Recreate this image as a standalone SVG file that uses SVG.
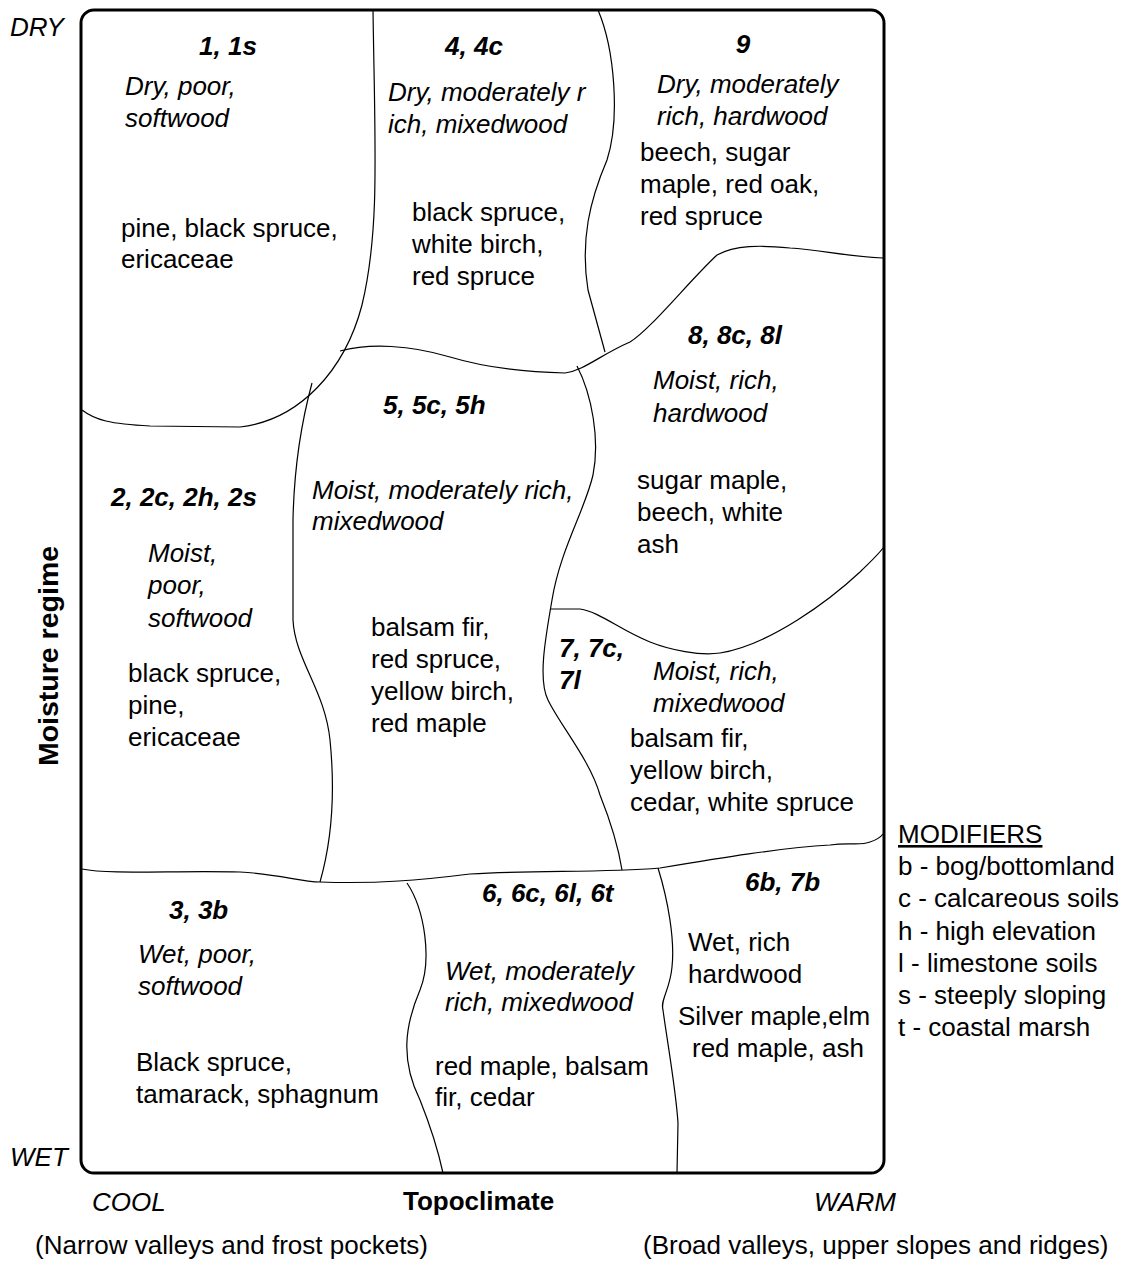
<svg xmlns="http://www.w3.org/2000/svg" width="1130" height="1262" viewBox="0 0 1130 1262">
<style>
text{font-family:"Liberation Sans",Arial,sans-serif;font-size:26px;fill:#000}
.c{font-weight:bold;font-style:italic}
.d{font-style:italic}
.ax{font-weight:bold}
.b{fill:none;stroke:#000;stroke-width:1.2}
.frame{fill:#fff;stroke:#000;stroke-width:3}
</style>
<rect width="1130" height="1262" fill="#fff"/>
<rect class="frame" x="81" y="10" width="803" height="1163" rx="13"/>
<g id="boundaries">
<path class="b" d="M373,10 C375,150 380,230 362,305 C345,370 300,420 240,427 L150,426 C110,424 95,420 82,410"/>
<path class="b" d="M598,10 C615,50 620,120 607,160 C590,200 580,240 588,290 L605,352"/>
<path class="b" d="M340,351 C370,343 410,345 450,357 C480,366 520,372 565,373 C585,370 600,355 630,342 C650,330 690,280 717,255 C735,245 760,245 790,248 C820,250 845,256 883,258"/>
<path class="b" d="M312,383 C302,420 294,470 293,520 L293,620 C295,660 325,690 330,740 C335,790 332,840 320,882"/>
<path class="b" d="M82,869 C110,875 180,870 240,872 C280,874 300,882 320,882 C380,884 420,880 470,874 C540,870 600,873 660,868 C720,858 780,848 830,845 C850,842 860,846 870,842 C876,840 880,838 883,834"/>
<path class="b" d="M407,883 C425,910 432,960 420,990 C405,1025 400,1060 420,1100 C432,1130 438,1150 443,1173"/>
<path class="b" d="M658,868 C668,900 675,940 672,967 C670,990 660,1000 663,1010 C667,1040 676,1090 678,1123 L677,1173"/>
<path class="b" d="M577,366 C592,395 600,440 593,475 C585,510 560,550 552,600 C545,640 538,680 548,700 C560,725 590,760 600,795 C610,820 618,845 622,870"/>
<path class="b" d="M550,609 L580,609 C600,612 620,630 650,642 C670,650 700,656 720,653 C770,645 830,600 860,572 C870,562 878,555 883,548"/>
</g>
<g id="axes">
<text class="d" x="10" y="36">DRY</text>
<text class="d" x="10" y="1166">WET</text>
<text class="ax" transform="translate(58,656) rotate(-90)" text-anchor="middle" style="font-size:28.5px">Moisture regime</text>
<text class="d" x="92" y="1211">COOL</text>
<text class="ax" x="403" y="1210">Topoclimate</text>
<text class="d" x="814" y="1211">WARM</text>
<text x="35" y="1254">(Narrow valleys and frost pockets)</text>
<text x="643" y="1254">(Broad valleys, upper slopes and ridges)</text>
</g>
<g id="region-1">
<text class="c" x="228" y="55" text-anchor="middle">1, 1s</text>
<text class="d" x="125" y="95">Dry, poor,</text>
<text class="d" x="125" y="127">softwood</text>
<text x="121" y="237">pine, black spruce,</text>
<text x="121" y="268">ericaceae</text>
</g>
<g id="region-4">
<text class="c" x="474" y="55" text-anchor="middle">4, 4c</text>
<text class="d" x="388" y="101">Dry, moderately r</text>
<text class="d" x="388" y="133">ich, mixedwood</text>
<text x="412" y="221">black spruce,</text>
<text x="412" y="253">white birch,</text>
<text x="412" y="285">red spruce</text>
</g>
<g id="region-9">
<text class="c" x="743" y="53" text-anchor="middle">9</text>
<text class="d" x="657" y="93">Dry, moderately</text>
<text class="d" x="657" y="125">rich, hardwood</text>
<text x="640" y="161">beech, sugar</text>
<text x="640" y="193">maple, red oak,</text>
<text x="640" y="225">red spruce</text>
</g>
<g id="region-8">
<text class="c" x="688" y="344">8, 8c, 8l</text>
<text class="d" x="653" y="389">Moist, rich,</text>
<text class="d" x="653" y="422">hardwood</text>
<text x="637" y="489">sugar maple,</text>
<text x="637" y="521">beech, white</text>
<text x="637" y="553">ash</text>
</g>
<g id="region-5">
<text class="c" x="383" y="414">5, 5c, 5h</text>
<text class="d" x="312" y="499">Moist, moderately rich,</text>
<text class="d" x="312" y="530">mixedwood</text>
<text x="371" y="636">balsam fir,</text>
<text x="371" y="668">red spruce,</text>
<text x="371" y="700">yellow birch,</text>
<text x="371" y="732">red maple</text>
</g>
<g id="region-2">
<text class="c" x="111" y="506">2, 2c, 2h, 2s</text>
<text class="d" x="148" y="562">Moist,</text>
<text class="d" x="148" y="594">poor,</text>
<text class="d" x="148" y="627">softwood</text>
<text x="128" y="682">black spruce,</text>
<text x="128" y="714">pine,</text>
<text x="128" y="746">ericaceae</text>
</g>
<g id="region-7">
<text class="c" x="559" y="657">7, 7c,</text>
<text class="c" x="559" y="689">7l</text>
<text class="d" x="653" y="680">Moist, rich,</text>
<text class="d" x="653" y="712">mixedwood</text>
<text x="630" y="747">balsam fir,</text>
<text x="630" y="779">yellow birch,</text>
<text x="630" y="811">cedar, white spruce</text>
</g>
<g id="region-3">
<text class="c" x="169" y="919">3, 3b</text>
<text class="d" x="138" y="963">Wet, poor,</text>
<text class="d" x="138" y="995">softwood</text>
<text x="136" y="1071">Black spruce,</text>
<text x="136" y="1103">tamarack, sphagnum</text>
</g>
<g id="region-6">
<text class="c" x="482" y="902">6, 6c, 6l, 6t</text>
<text class="d" x="445" y="980">Wet, moderately</text>
<text class="d" x="445" y="1011">rich, mixedwood</text>
<text x="435" y="1075">red maple, balsam</text>
<text x="435" y="1106">fir, cedar</text>
</g>
<g id="region-6b">
<text class="c" x="745" y="891">6b, 7b</text>
<text x="688" y="951">Wet, rich</text>
<text x="688" y="983">hardwood</text>
<text x="678" y="1025">Silver maple,elm</text>
<text x="692" y="1057">red maple, ash</text>
</g>
<g id="modifiers">
<text x="898" y="843" text-decoration="underline">MODIFIERS</text>
<text x="898" y="875">b - bog/bottomland</text>
<text x="898" y="907">c - calcareous soils</text>
<text x="898" y="940">h - high elevation</text>
<text x="898" y="972">l - limestone soils</text>
<text x="898" y="1004">s - steeply sloping</text>
<text x="898" y="1036">t - coastal marsh</text>
</g>
</svg>
